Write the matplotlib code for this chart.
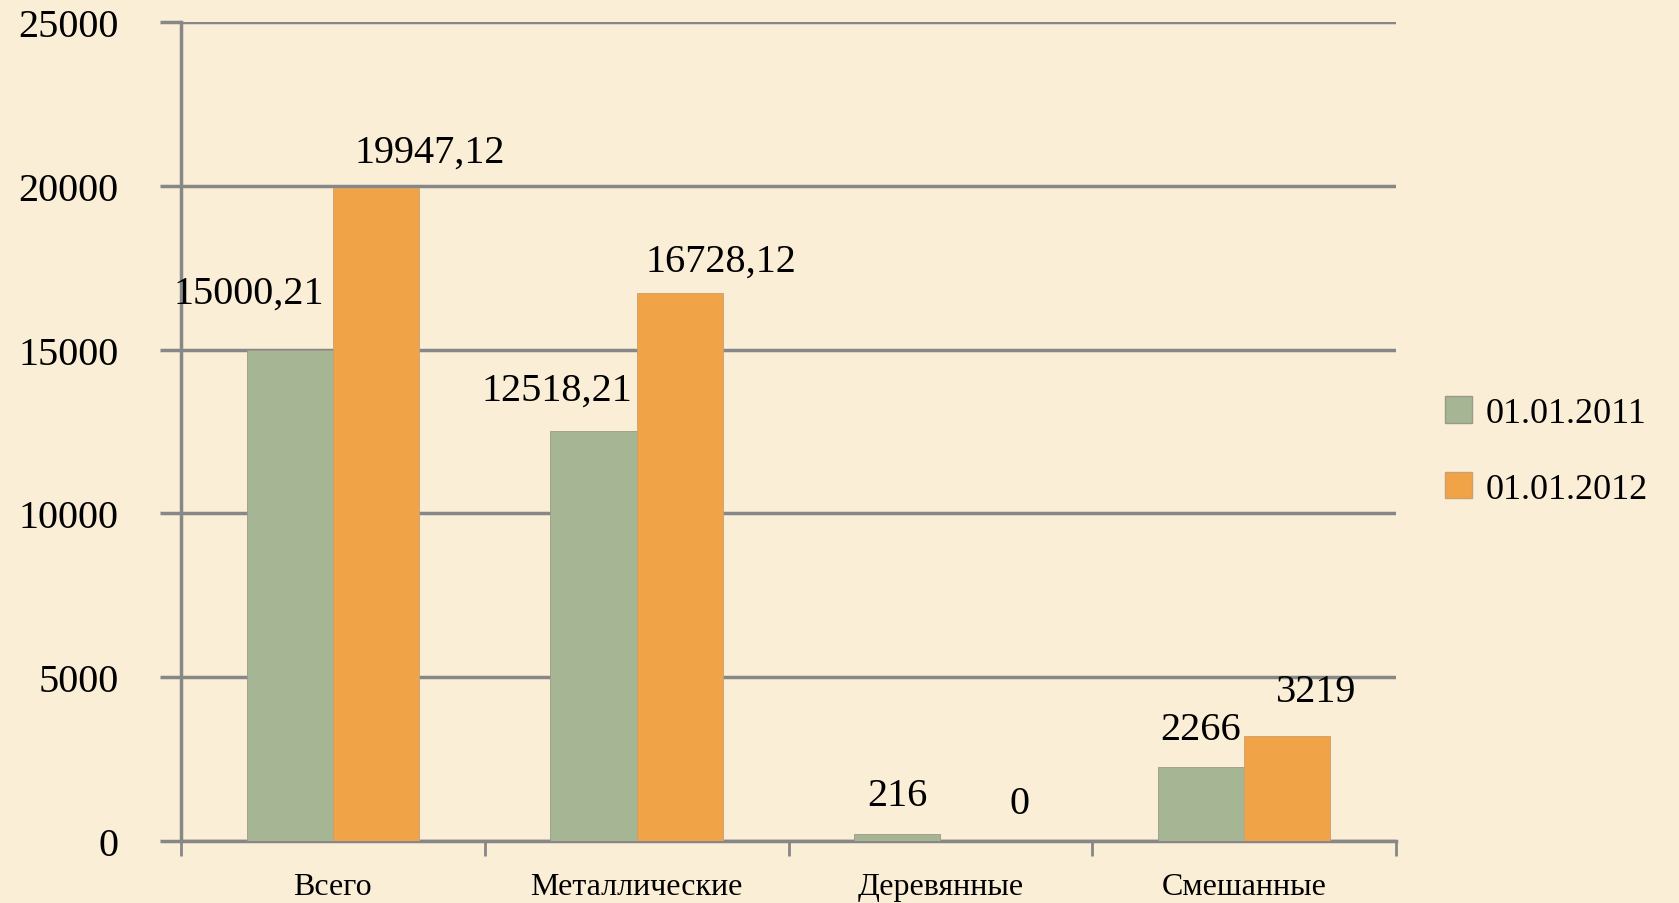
import matplotlib
matplotlib.use("Agg")
import matplotlib.pyplot as plt
import numpy as np
from matplotlib.patches import Patch

categories = ["Всего", "Металлические", "Деревянные", "Смешанные"]
series_names = ["01.01.2011", "01.01.2012"]
values_2011 = [15000.21, 12518.21, 216, 2266]
values_2012 = [19947.12, 16728.12, 0, 3219]
labels_2011 = ["15000,21", "12518,21", "216", "2266"]
labels_2012 = ["19947,12", "16728,12", "0", "3219"]
yticks = [0, 5000, 10000, 15000, 20000, 25000]

# label offsets in pixels (style)
off_2011 = [(-41, 56), (-37, 41), (0, 38), (0, 37)]
off_2012 = [(54, 35), (41, 32), (36, 37), (29, 44)]

c_green = "#a6b593"
c_orange = "#f0a447"
bg = "#fbeed6"
grid_c = "#878787"
font = ["Liberation Serif", "DejaVu Serif"]

plt.rcParams["font.family"] = font

fig = plt.figure(figsize=(16.79, 9.04), dpi=100)
fig.patch.set_facecolor(bg)
ax = fig.add_axes([181 / 1679, 1 - 842 / 904, (1396 - 181) / 1679, (842 - 23) / 904])
ax.set_facecolor("none")

x = np.arange(len(categories))
w = 0.284
b1 = ax.bar(x - w / 2, values_2011, w, color=c_green, edgecolor="#9a9a8a", linewidth=0.6, zorder=3)
b2 = ax.bar(x + w / 2, values_2012, w, color=c_orange, edgecolor="#c9a070", linewidth=0.6, zorder=3)

for rect, lab, off in zip(b1, labels_2011, off_2011):
    ax.annotate(lab, (rect.get_x() + rect.get_width() / 2, rect.get_height()),
                xytext=off, textcoords="offset pixels", ha="center", va="center",
                fontsize=29, color="black", zorder=5)
for rect, lab, off in zip(b2, labels_2012, off_2012):
    ax.annotate(lab, (rect.get_x() + rect.get_width() / 2, rect.get_height()),
                xytext=off, textcoords="offset pixels", ha="center", va="center",
                fontsize=29, color="black", zorder=5)

ax.set_xlim(-0.5, len(categories) - 0.5)
ax.set_ylim(0, 25000)
ax.set_yticks(yticks)
ax.set_yticklabels([str(t) for t in yticks], fontsize=29)
ax.yaxis.grid(True, color=grid_c, linewidth=2.5, zorder=1)
ax.set_axisbelow(True)

ax.set_xticks(np.arange(len(categories) + 1) - 0.5)
ax.set_xticklabels([])
ax.set_xticks(x, minor=True)
ax.set_xticklabels(categories, minor=True, fontsize=23)
ax.tick_params(axis="x", which="minor", length=0, pad=22)
ax.tick_params(axis="x", which="major", length=11, width=2, color=grid_c)
ax.tick_params(axis="y", which="major", length=15, width=2.5, color=grid_c, pad=30)

for s in ["top", "right"]:
    ax.spines[s].set_visible(False)
for s in ["left", "bottom"]:
    ax.spines[s].set_color(grid_c)
    ax.spines[s].set_linewidth(2.5)

handles = [Patch(facecolor=c_green, edgecolor="#9a9a8a", label=series_names[0]),
           Patch(facecolor=c_orange, edgecolor="#c9a070", label=series_names[1])]
leg = fig.legend(handles=handles, loc="center left", bbox_to_anchor=(1412 / 1679, 1 - 452 / 904),
                 frameon=False, fontsize=26, handlelength=0.75, handleheight=0.75,
                 handletextpad=0.4, labelspacing=1.15)

fig.savefig("out.png", dpi=100, facecolor=bg)
